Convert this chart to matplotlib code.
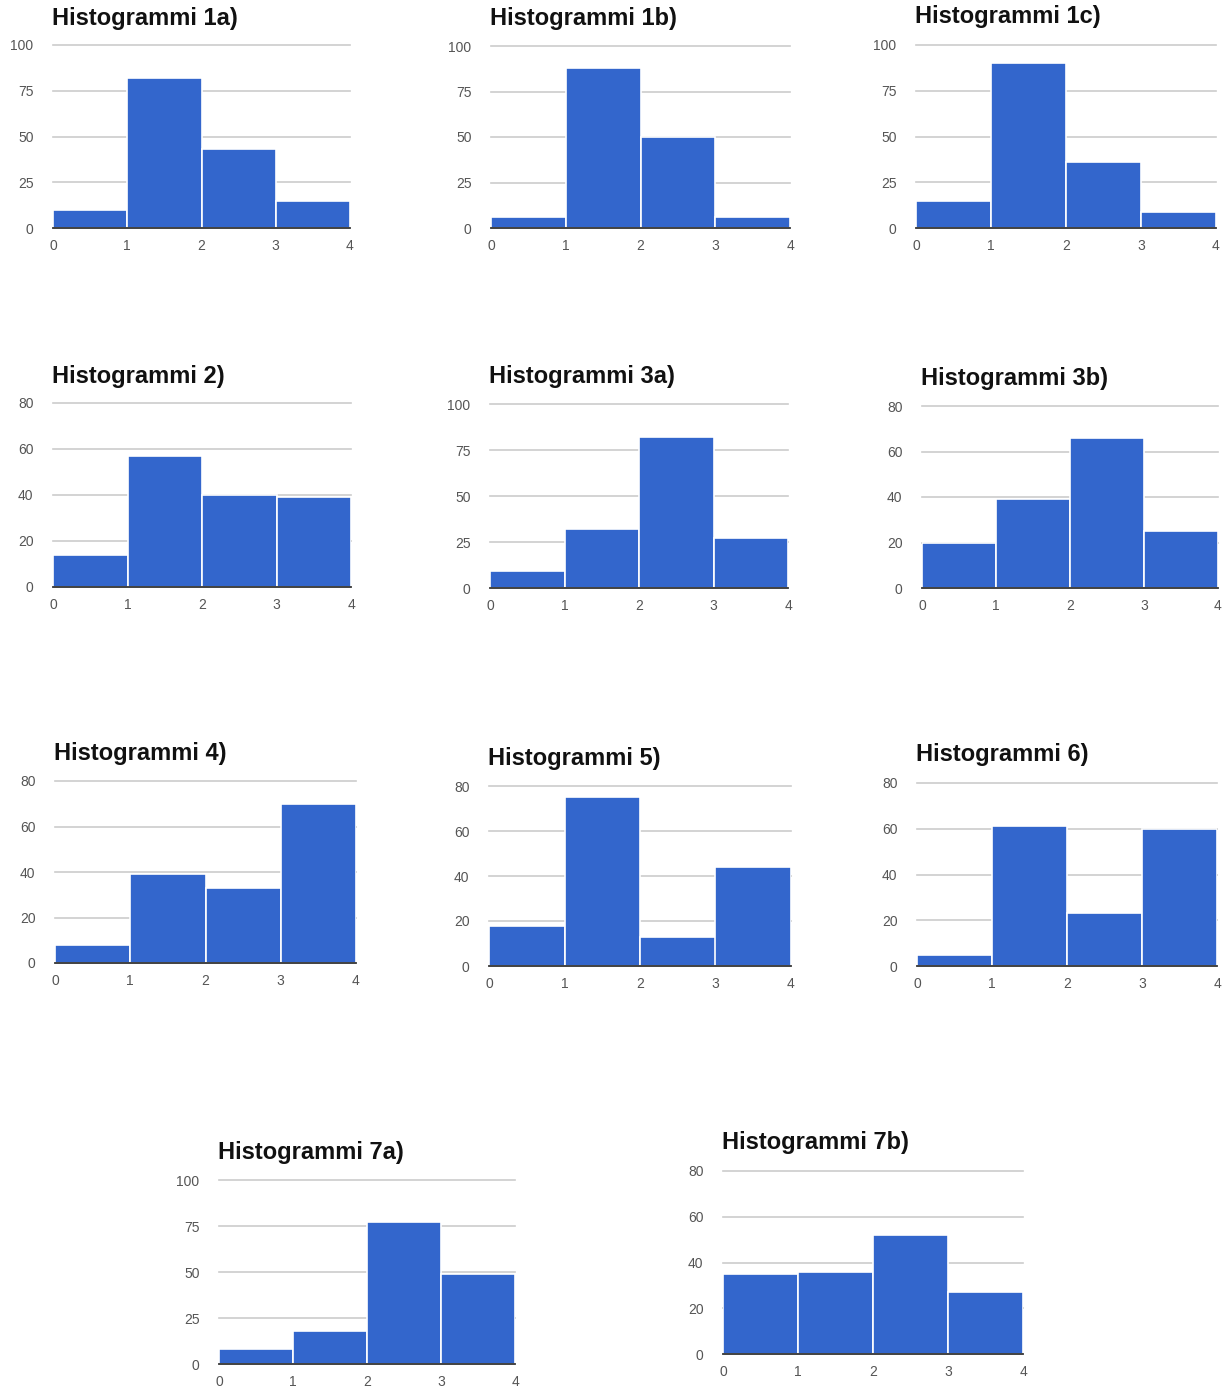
import matplotlib
matplotlib.use("Agg")
import matplotlib.pyplot as plt

# --- data (bar heights per bin 0-1, 1-2, 2-3, 3-4) ---
TITLES = ["Histogrammi 1a)", "Histogrammi 1b)", "Histogrammi 1c)",
          "Histogrammi 2)", "Histogrammi 3a)", "Histogrammi 3b)",
          "Histogrammi 4)", "Histogrammi 5)", "Histogrammi 6)",
          "Histogrammi 7a)", "Histogrammi 7b)"]
BIN_EDGES = [0, 1, 2, 3]
X_TICKS = [0, 1, 2, 3, 4]
H1A = [10, 82, 43, 15]
H1B = [6, 88, 50, 6]
H1C = [15, 90, 36, 9]
H2 = [14, 57, 40, 39]
H3A = [9, 32, 82, 27]
H3B = [20, 39, 66, 25]
H4 = [8, 39, 33, 70]
H5 = [18, 75, 13, 44]
H6 = [5, 61, 23, 60]
H7A = [8, 18, 77, 49]
H7B = [35, 36, 52, 27]
HEIGHTS = [H1A, H1B, H1C, H2, H3A, H3B, H4, H5, H6, H7A, H7B]
TICKS_100 = [0, 25, 50, 75, 100]
TICKS_80 = [0, 20, 40, 60, 80]
Y_TICKS = [TICKS_100, TICKS_100, TICKS_100, TICKS_80, TICKS_100, TICKS_80,
           TICKS_80, TICKS_80, TICKS_80, TICKS_100, TICKS_80]

# --- layout in pixels: x of 0, x of 4, y of top gridline, y of baseline, title y ---
W, H = 1228, 1391
LAYOUT = [(53, 350, 45, 228, 17), (491, 790, 46, 228, 17), (916, 1216, 45, 228, 16),
          (53, 351, 403, 587, 375), (490, 788, 404, 588, 375), (922, 1218, 406, 588, 378),
          (55, 356, 781, 963, 753), (489, 791, 786, 966, 757), (917, 1217, 783, 966, 754),
          (219, 515, 1180, 1364, 1151), (723, 1023, 1171, 1354, 1142)]

BAR = "#3366cc"
GRID = "#cccccc"
TXT = "#555555"

plt.rcParams["font.family"] = ["Liberation Sans", "DejaVu Sans"]
fig = plt.figure(figsize=(W / 100, H / 100), dpi=100)

for title, hts, yt, (x0, x4, ytop, ybase, ty) in zip(TITLES, HEIGHTS, Y_TICKS, LAYOUT):
    ax = fig.add_axes([x0 / W, 1 - ybase / H, (x4 - x0) / W, (ybase - ytop) / H])
    ax.bar(BIN_EDGES, hts, width=1, align="edge", color=BAR, edgecolor="white",
           linewidth=1.2, zorder=2)
    ax.set_xlim(0, 4)
    ax.set_ylim(0, yt[-1])
    for v in yt[1:]:
        ax.axhline(v, color=GRID, lw=1.2, zorder=1, clip_on=False)
    ax.axhline(0, color="#333333", lw=1.3, zorder=3, clip_on=False)
    for s in ax.spines.values():
        s.set_visible(False)
    ax.set_xticks(X_TICKS)
    ax.set_yticks(yt)
    ax.tick_params(length=0, labelsize=10, labelcolor=TXT)
    ax.tick_params(axis="y", pad=14)
    ax.tick_params(axis="x", pad=8)
    fig.text((x0 - 1) / W, 1 - (ty + 1) / H, title, fontsize=17, fontweight="bold",
             color="#111111", va="center", ha="left")

fig.savefig("out.png", dpi=100, facecolor="white")
